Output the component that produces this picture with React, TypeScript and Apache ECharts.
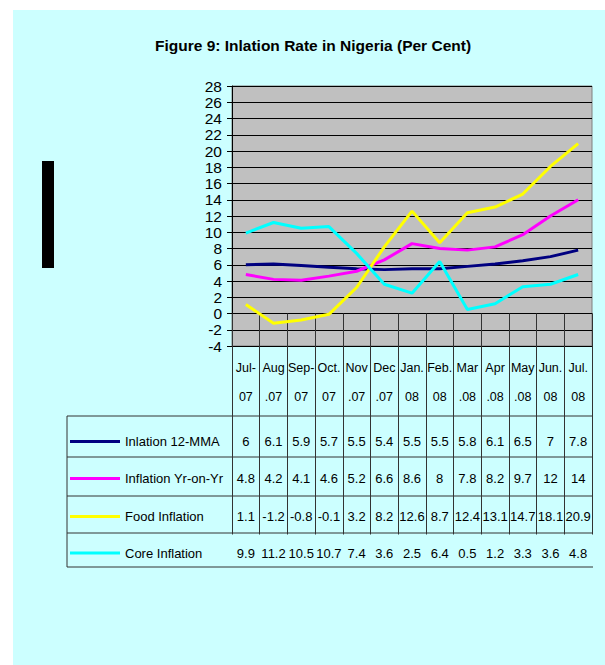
import React, { useEffect, useRef } from "react";
import * as echarts from "echarts";

const categories = ["Jul-\n07", "Aug\n.07", "Sep-\n07", "Oct.\n07", "Nov\n.07", "Dec\n.07", "Jan.\n08", "Feb.\n08", "Mar\n.08", "Apr\n.08", "May\n.08", "Jun.\n08", "Jul.\n08"];
const mma = [6, 6.1, 5.9, 5.7, 5.5, 5.4, 5.5, 5.5, 5.8, 6.1, 6.5, 7, 7.8];
const yoy = [4.8, 4.2, 4.1, 4.6, 5.2, 6.6, 8.6, 8, 7.8, 8.2, 9.7, 12, 14];
const food = [1.1, -1.2, -0.8, -0.1, 3.2, 8.2, 12.6, 8.7, 12.4, 13.1, 14.7, 18.1, 20.9];
const core = [9.9, 11.2, 10.5, 10.7, 7.4, 3.6, 2.5, 6.4, 0.5, 1.2, 3.3, 3.6, 4.8];
const seriesNames = ["Inlation 12-MMA", "Inflation Yr-on-Yr", "Food Inflation", "Core Inflation"];
const seriesData = [mma, yoy, food, core];
const seriesColors = ["#000080", "#FF00FF", "#FFFF00", "#00FFFF"];
const yMin = -4;
const yMax = 28;
const yStep = 2;
const titleText = "Figure 9: Inlation Rate in Nigeria (Per Cent)";

const FONT = "'Liberation Sans', Arial, sans-serif";

// layout
const W = 605;
const H = 665;
const PLOT_L = 232;
const PLOT_R = 592;
const PLOT_T = 86;
const PLOT_B = 346;
const TABLE_L = 67;
const TABLE_R = 593;
const ROW_LINES = [416, 457, 496, 533, 567];
const ROW_TEXT = [441.5, 478.5, 516.5, 553];

export default function App() {
  const ref = useRef<HTMLDivElement>(null);
  useEffect(() => {
    if (!ref.current) return;
    const chart = echarts.init(ref.current, null, { renderer: "svg" });

    const xAxes: any[] = [
      {
        type: "category",
        data: categories,
        gridIndex: 0,
        position: "bottom",
        boundaryGap: true,
        axisLine: { show: true, lineStyle: { color: "#000", width: 1 } },
        axisTick: {
          show: true,
          interval: 0,
          length: ROW_LINES[ROW_LINES.length - 1] - PLOT_B,
          lineStyle: { color: "#333", width: 1 },
        },
        axisLabel: {
          interval: 0,
          margin: 382.5 - PLOT_B,
          verticalAlign: "middle",
          lineHeight: 29,
          fontSize: 12.5,
          fontFamily: FONT,
          color: "#000",
        },
        splitLine: { show: false },
      },
    ];
    seriesData.forEach((arr, k) => {
      xAxes.push({
        type: "category",
        data: categories,
        gridIndex: 0,
        position: "bottom",
        offset: 0,
        axisLine: { show: false },
        axisTick: { show: false },
        splitLine: { show: false },
        axisLabel: {
          interval: 0,
          hideOverlap: false,
          margin: ROW_TEXT[k] - PLOT_B,
          verticalAlign: "middle",
          fontSize: 13,
          fontFamily: FONT,
          color: "#000",
          formatter: (_v: string, i: number) => String(arr[i]),
        },
      });
    });

    const legends = seriesNames.map((name, k) => ({
      data: [{ name, icon: "rect" }],
      left: 70,
      top: ROW_TEXT[k] - 8,
      orient: "vertical",
      padding: 0,
      itemWidth: 50,
      itemHeight: 3,
      selectedMode: false,
      textStyle: { fontSize: 13, fontFamily: FONT, color: "#000", lineHeight: 16 },
    }));

    const graphics: any[] = [
      {
        type: "text",
        x: 313,
        y: 45,
        style: {
          text: titleText,
          fill: "#000",
          font: `bold 15.5px ${FONT}`,
          textAlign: "center",
          textVerticalAlign: "middle",
        },
      },
      { type: "rect", shape: { x: 42, y: 161, width: 12, height: 107 }, style: { fill: "#000" } },
      ...ROW_LINES.map((y) => ({
        type: "line",
        shape: { x1: TABLE_L, y1: y, x2: TABLE_R, y2: y },
        style: { stroke: "#333", lineWidth: 1 },
      })),
      {
        type: "line",
        shape: { x1: TABLE_L, y1: ROW_LINES[0], x2: TABLE_L, y2: ROW_LINES[ROW_LINES.length - 1] },
        style: { stroke: "#333", lineWidth: 1 },
      },
    ];

    chart.setOption({
      animation: false,
      backgroundColor: "transparent",
      grid: {
        left: PLOT_L,
        top: PLOT_T,
        width: PLOT_R - PLOT_L,
        height: PLOT_B - PLOT_T,
        show: true,
        backgroundColor: "#C0C0C0",
        borderColor: "#808080",
        borderWidth: 1,
        containLabel: false,
      },
      title: { show: false },
      legend: legends,
      xAxis: xAxes,
      yAxis: {
        type: "value",
        min: yMin,
        max: yMax,
        interval: yStep,
        axisLine: { show: true, lineStyle: { color: "#000" } },
        axisTick: { show: true, length: 5, lineStyle: { color: "#000" } },
        axisLabel: {
          margin: 10,
          fontSize: 15.5,
          lineHeight: 15,
          fontFamily: FONT,
          color: "#000",
          showMinLabel: true,
          showMaxLabel: true,
          hideOverlap: false,
        },
        splitLine: { show: true, lineStyle: { color: "#000", width: 1 } },
      },
      graphic: graphics,
      series: seriesData.map((arr, k) => ({
        name: seriesNames[k],
        type: "line",
        data: arr,
        xAxisIndex: 0,
        yAxisIndex: 0,
        showSymbol: false,
        symbol: "none",
        lineStyle: { color: seriesColors[k], width: 3 },
        itemStyle: { color: seriesColors[k] },
        z: 3 + k,
      })),
    });
    return () => chart.dispose();
  }, []);

  return (
    <div style={{ position: "absolute", left: 0, top: 0, width: W, height: H, background: "#fff" }}>
      <div style={{ position: "absolute", left: 13, top: 10, width: W - 13, height: H - 10, background: "#CCFFFF" }} />
      <div ref={ref} style={{ position: "absolute", left: 0, top: 0, width: W, height: H }} />
    </div>
  );
}
